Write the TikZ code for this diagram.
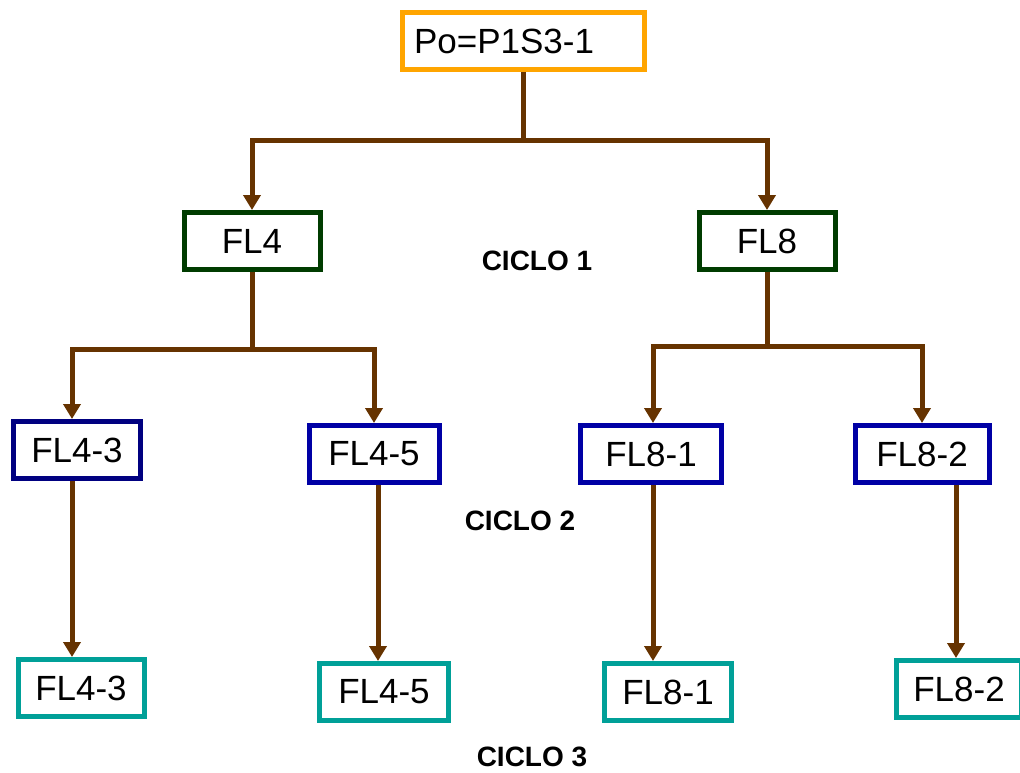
\documentclass[tikz,border=0pt]{standalone}
\usepackage{fontspec}
\setmainfont{Liberation Sans}
\usepackage{tikz}
\usetikzlibrary{arrows.meta, positioning}

\definecolor{boxorange}{RGB}{255,165,0}
\definecolor{boxgreen}{RGB}{0,60,0}
\definecolor{boxnavy}{RGB}{0,0,128}
\definecolor{boxblue}{RGB}{0,0,165}
\definecolor{boxteal}{RGB}{0,160,152}
\definecolor{linkbrown}{RGB}{102,51,0}

\begin{document}
\begin{tikzpicture}[
            x=1pt, y=-1pt,
            % boxes of the tree
            box/.style={
                draw, rectangle,
                line width=5pt,
                minimum height=57pt,
                fill=white,
                font=\fontsize{35}{40}\selectfont
            },
            cycle/.style={font=\bfseries\fontsize{28}{32}\selectfont},
            link/.style={draw=linkbrown, line width=5pt},
            arrow/.style={link, -{Triangle[width=17pt,length=15pt]}}
        ]
        \useasboundingbox (0,0) rectangle (1020,773);

        % Root
        \node[box, draw=boxorange, minimum width=242pt, text width=218pt, align=left] (po) at (523,41) {Po=P1S3-1};

        % Ciclo 1
        \node[box, draw=boxgreen, minimum width=136pt] (fl4) at (252,241) {FL4};
        \node[box, draw=boxgreen, minimum width=136pt] (fl8) at (767,241) {FL8};
        \node[cycle] (c1) at (537,261) {CICLO 1};

        % Ciclo 2
        \node[box, draw=boxnavy, minimum width=127pt] (fl43) at (77,450) {FL4-3};
        \node[box, draw=boxblue, minimum width=130pt] (fl45) at (374,454) {FL4-5};
        \node[box, draw=boxblue, minimum width=141pt] (fl81) at (651,454) {FL8-1};
        \node[box, draw=boxblue, minimum width=134pt] (fl82) at (922,454) {FL8-2};
        \node[cycle] (c2) at (520,521) {CICLO 2};

        % Ciclo 3
        \node[box, draw=boxteal, minimum width=126pt] (fl43b) at (81,688) {FL4-3};
        \node[box, draw=boxteal, minimum width=129pt] (fl45b) at (384,692) {FL4-5};
        \node[box, draw=boxteal, minimum width=127pt] (fl81b) at (668,692) {FL8-1};
        \node[box, draw=boxteal, minimum width=125pt] (fl82b) at (959,689) {FL8-2};
        \node[cycle] (c3) at (532,757) {CICLO 3};

        % Junctions
        \coordinate (j0) at (523,141);
        \coordinate (j4) at (252,349);
        \coordinate (j8) at (767,346);

        % Arrows
        \draw[link] (po.south) -- (j0);
        \draw[arrow] (j0) -| (fl4.north);
        \draw[arrow] (j0) -| (fl8.north);

        \draw[link] (fl4.south) -- (j4);
        \draw[arrow] (j4) -| (fl43.north -| 72,0);
        \draw[arrow] (j4) -| (fl45.north);
        \draw[link] (fl8.south) -- (j8);
        \draw[arrow] (j8) -| (fl81.north -| 653,0);
        \draw[arrow] (j8) -| (fl82.north);

        \draw[arrow] (fl43.south -| 72,0) -- (fl43b.north -| 72,0);
        \draw[arrow] (fl45.south -| 378,0) -- (fl45b.north -| 378,0);
        \draw[arrow] (fl81.south -| 653,0) -- (fl81b.north -| 653,0);
        \draw[arrow] (fl82.south -| 956,0) -- (fl82b.north -| 956,0);

        \end{tikzpicture}
\end{document}
